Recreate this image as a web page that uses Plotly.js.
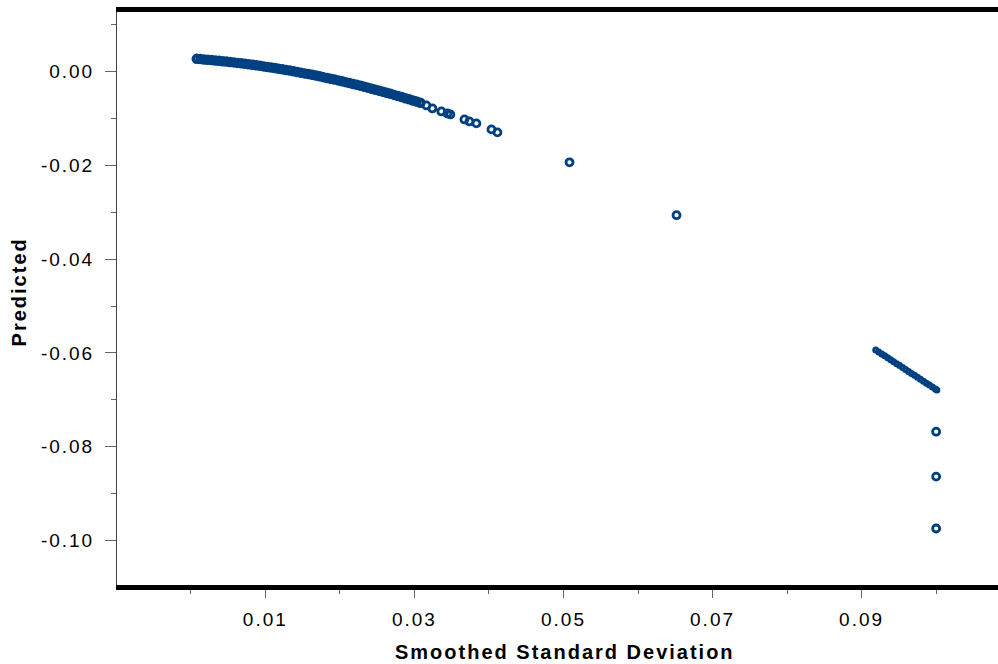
<!DOCTYPE html>
<html>
<head>
<meta charset="utf-8">
<script src="https://cdn.plot.ly/plotly-3.0.1.min.js"></script>
<style>
  html, body { margin: 0; padding: 0; background: #fff; }
  #chart { width: 998px; height: 664px; }
  .main-svg text { letter-spacing: 2px; }
</style>
</head>
<body>
<div id="chart"></div>
<script>
// Dense band of points (Smoothed Standard Deviation vs Predicted)
const denseSd = [0.0008,0.0013,0.0018,0.0023,0.0028,0.0033,0.0038,0.0043,0.0048,0.0053,0.0058,0.0063,0.0068,0.0073,0.0078,0.0083,0.0088,0.0093,0.0098,0.0103,0.0108,0.0113,0.0118,0.0123,0.0128,0.0133,0.0138,0.0143,0.0148,0.0153,0.0158,0.0163,0.0168,0.0173,0.0178,0.0183,0.0188,0.0193,0.0198,0.0203,0.0208,0.0213,0.0218,0.0223,0.0228,0.0233,0.0238,0.0243,0.0248,0.0253,0.0258,0.0263,0.0268,0.0273,0.0278,0.0283,0.0288,0.0293,0.0298,0.0303,0.0308];
const densePred = [0.00271,0.00265,0.00258,0.00252,0.00244,0.00237,0.00229,0.00221,0.00212,0.00204,0.00195,0.00185,0.00175,0.00165,0.00155,0.00144,0.00133,0.00122,0.00110,0.00098,0.00086,0.00074,0.00061,0.00047,0.00034,0.00020,0.00006,-0.00009,-0.00024,-0.00039,-0.00054,-0.00070,-0.00086,-0.00102,-0.00119,-0.00136,-0.00154,-0.00171,-0.00189,-0.00208,-0.00226,-0.00245,-0.00265,-0.00284,-0.00304,-0.00324,-0.00345,-0.00366,-0.00387,-0.00409,-0.00430,-0.00453,-0.00475,-0.00498,-0.00521,-0.00544,-0.00568,-0.00592,-0.00617,-0.00641,-0.00666];
// Sparse tail of the band plus isolated points
const tailSd = [0.03161,0.03242,0.03362,0.03443,0.03483,0.03671,0.03738,0.03832,0.04034,0.04114,0.05081,0.06517];
const tailPred = [-0.00723,-0.00787,-0.00851,-0.00894,-0.00915,-0.01021,-0.01064,-0.01106,-0.01234,-0.01298,-0.01936,-0.03064];
// Right-hand cluster: a tight line of points
const lineSd = [0.0919,0.0923,0.0927,0.0931,0.0935,0.0939,0.0943,0.0947,0.0951,0.0955,0.0959,0.0963,0.0967,0.0971,0.0975,0.0979,0.0983,0.0987,0.0991,0.0995,0.0999,0.1001];
const linePred = [-0.05938,-0.05980,-0.06021,-0.06063,-0.06104,-0.06146,-0.06187,-0.06229,-0.06271,-0.06312,-0.06354,-0.06395,-0.06437,-0.06478,-0.06520,-0.06561,-0.06603,-0.06645,-0.06686,-0.06728,-0.06769,-0.06790];
// Three points below the cluster
const lowSd = [0.1000,0.1000,0.1000];
const lowPred = [-0.07681,-0.08638,-0.09745];

// Axis ticks
const xTickVals = [0.01,0.03,0.05,0.07,0.09];
const xTickText = ["0.01","0.03","0.05","0.07","0.09"];
const xMinorVals = [0.00,0.02,0.04,0.06,0.08,0.10];
const yTickVals = [0.00,-0.02,-0.04,-0.06,-0.08,-0.10];
const yTickText = ["0.00","-0.02","-0.04","-0.06","-0.08","-0.10"];
const yMinorVals = [0.01,-0.01,-0.03,-0.05,-0.07,-0.09,-0.11];

const blue = 'rgb(0,64,128)';

function pts(x, y, size, lw) {
  return {
    type: 'scatter', mode: 'markers', x: x, y: y,
    marker: { symbol: 'circle-open', size: size, color: blue, line: { width: lw, color: blue } },
    hoverinfo: 'x+y'
  };
}

const traces = [
  pts(denseSd, densePred, 7, 3.5),
  pts(tailSd, tailPred, 7, 2.8),
  pts(lineSd, linePred, 4, 3),
  pts(lowSd, lowPred, 7, 2.8)
];

const fam = '"Liberation Sans", Arial, sans-serif';

const layout = {
  width: 998,
  height: 664,
  margin: { l: 117, r: 0, t: 12, b: 79, pad: 0 },
  paper_bgcolor: '#fff',
  plot_bgcolor: '#fff',
  showlegend: false,
  font: { family: fam, color: '#000' },
  xaxis: {
    range: [-0.0099, 0.1083],
    showgrid: false,
    zeroline: false,
    showline: true,
    linecolor: '#000',
    linewidth: 5,
    mirror: true,
    ticks: 'outside',
    ticklen: 8,
    tickwidth: 1,
    tickcolor: '#666',
    tickmode: 'array',
    tickvals: xTickVals,
    ticktext: xTickText,
    tickfont: { family: fam, size: 19, color: '#000' },
    ticklabelstandoff: 5,
    minor: { tickmode: 'array', tickvals: xMinorVals, ticks: 'outside', ticklen: 4, tickcolor: '#666', tickwidth: 1, showgrid: false }
  },
  yaxis: {
    range: [-0.1095, 0.0127],
    showgrid: false,
    zeroline: false,
    showline: true,
    linecolor: '#444',
    linewidth: 1,
    ticks: 'outside',
    ticklen: 11,
    tickwidth: 1,
    tickcolor: '#666',
    tickmode: 'array',
    tickvals: yTickVals,
    ticktext: yTickText,
    tickfont: { family: fam, size: 19, color: '#000' },
    ticklabelstandoff: 7,
    minor: { tickmode: 'array', tickvals: yMinorVals, ticks: 'outside', ticklen: 5, tickcolor: '#666', tickwidth: 1, showgrid: false }
  },
  annotations: [{
    text: 'Predicted',
    xref: 'paper', yref: 'paper',
    x: -0.111, y: 0.511,
    xanchor: 'center', yanchor: 'middle',
    textangle: -90,
    showarrow: false,
    font: { family: fam, size: 20, weight: 'bold', color: '#000' }
  }, {
    text: 'Smoothed Standard Deviation',
    xref: 'paper', yref: 'paper',
    x: 0.508, y: -0.117,
    xanchor: 'center', yanchor: 'middle',
    showarrow: false,
    font: { family: fam, size: 20, weight: 'bold', color: '#000' }
  }]
};

Plotly.newPlot('chart', traces, layout, { displayModeBar: false, staticPlot: true });
</script>
</body>
</html>
